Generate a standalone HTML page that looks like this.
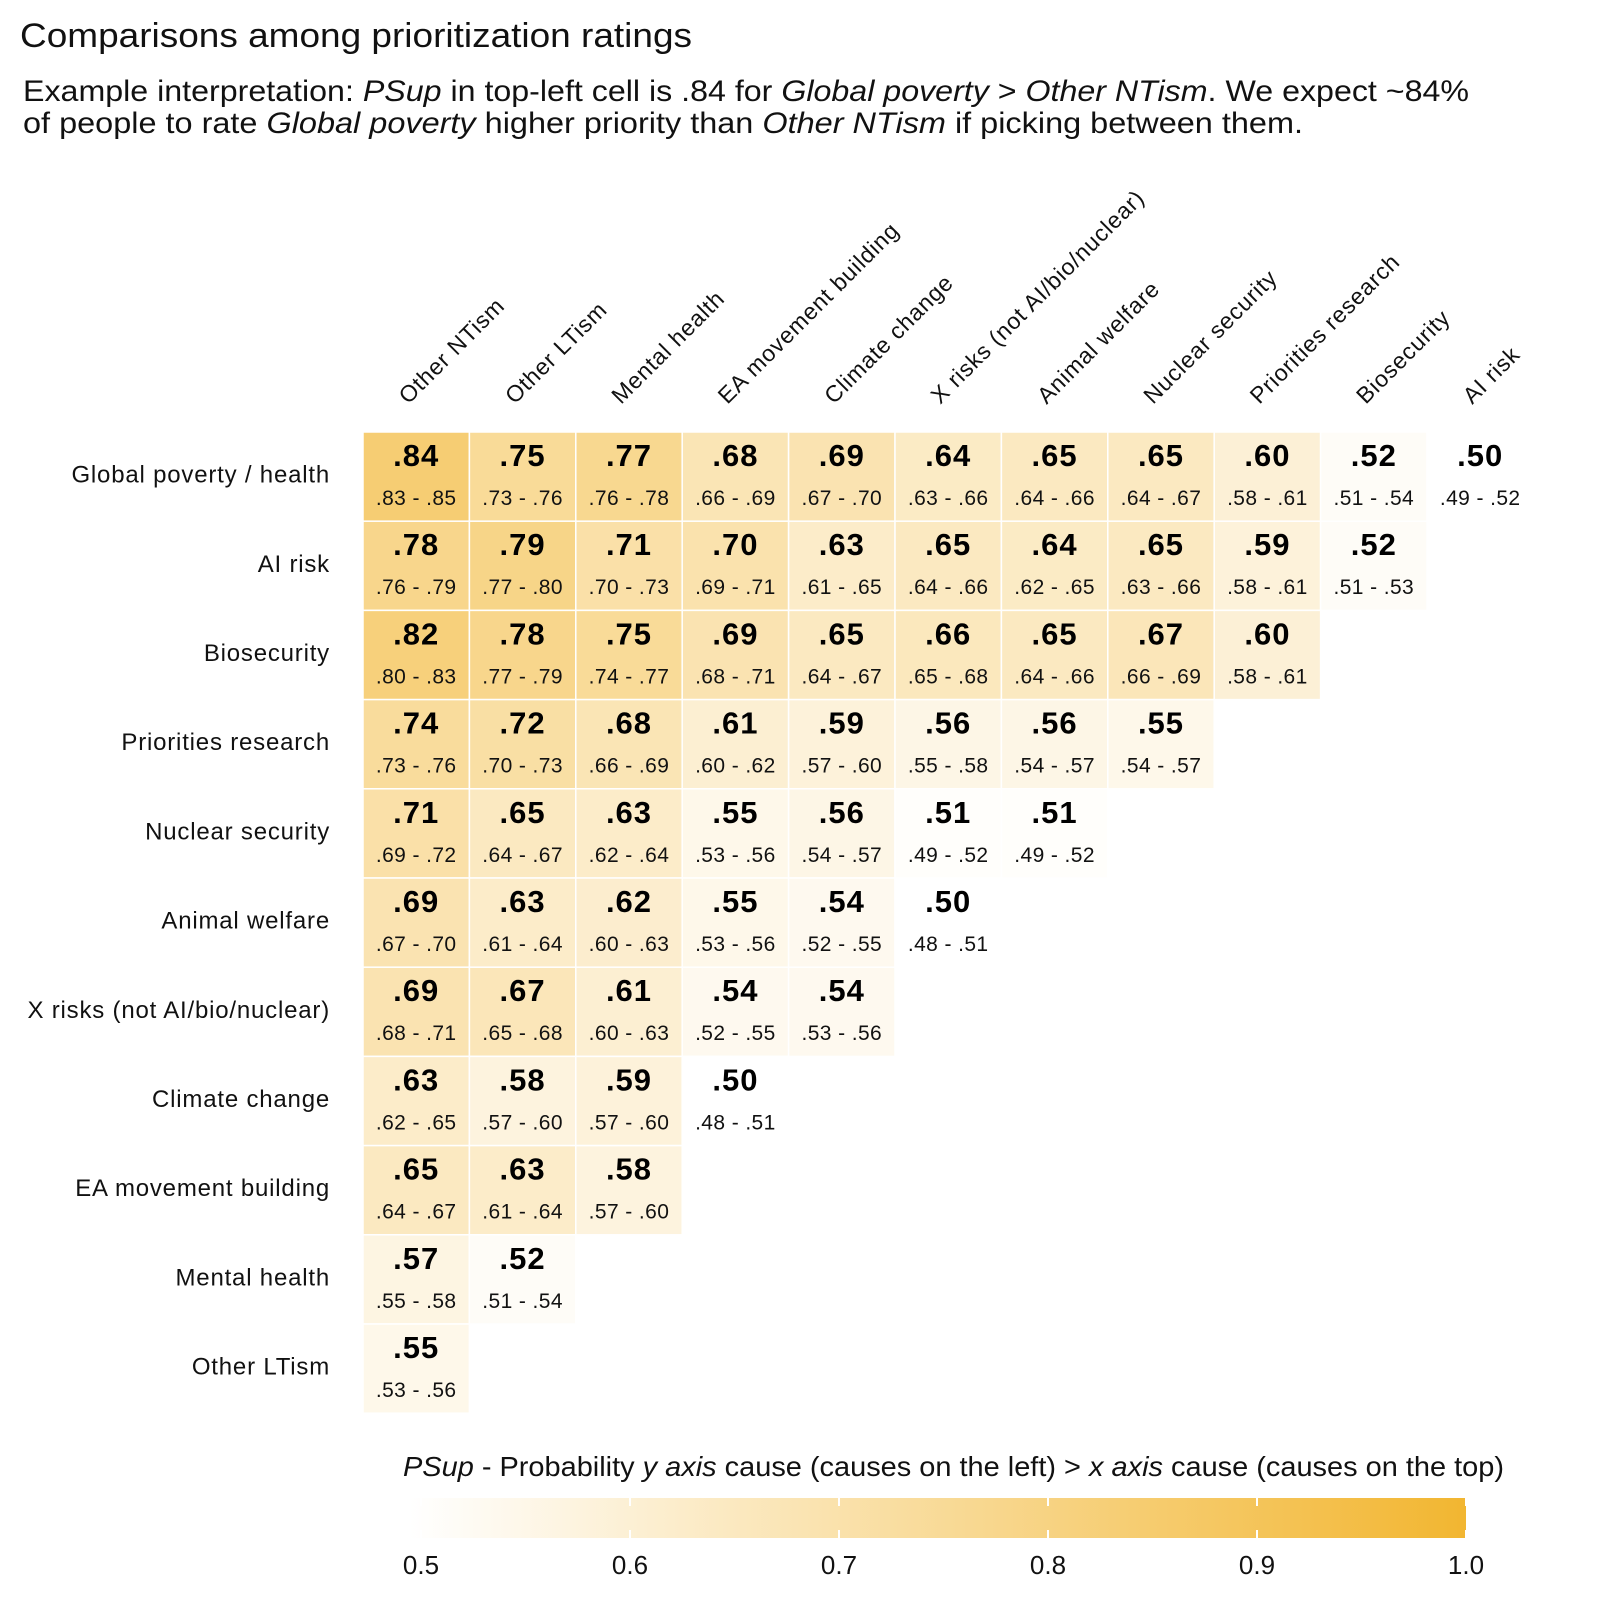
<!DOCTYPE html>
<html><head><meta charset="utf-8"><style>
html,body{margin:0;padding:0;background:#fff;}
svg{display:block;font-family:"Liberation Sans",sans-serif;}
</style></head><body>
<svg id="chart" width="1600" height="1600" viewBox="0 0 1600 1600" xmlns="http://www.w3.org/2000/svg">
<defs>
<linearGradient id="cbar" x1="0" x2="1" y1="0" y2="0">
<stop offset="0" stop-color="#ffffff"/><stop offset="1" stop-color="#f2b631"/>
</linearGradient>
</defs>
<text x="20" y="47" font-size="34" textLength="672" lengthAdjust="spacingAndGlyphs" fill="#111">Comparisons among prioritization ratings</text>
<text x="23" y="101" font-size="30" textLength="1446" lengthAdjust="spacingAndGlyphs" fill="#111">Example interpretation: <tspan font-style="italic">PSup</tspan> in top-left cell is .84 for <tspan font-style="italic">Global poverty</tspan> &gt; <tspan font-style="italic">Other NTism</tspan>. We expect ~84%</text>
<text x="23" y="133" font-size="30" textLength="1280" lengthAdjust="spacingAndGlyphs" fill="#111">of people to rate <tspan font-style="italic">Global poverty</tspan> higher priority than <tspan font-style="italic">Other NTism</tspan> if picking between them.</text>
<g id="cells"></g>
<g id="collabels"></g>
<g id="rowlabels"></g>
<text x="403" y="1476" font-size="28" textLength="1101" lengthAdjust="spacingAndGlyphs" fill="#111"><tspan font-style="italic">PSup</tspan> - Probability <tspan font-style="italic">y axis</tspan> cause (causes on the left) &gt; <tspan font-style="italic">x axis</tspan> cause (causes on the top)</text>
<rect x="410" y="1498" width="1056" height="40" fill="url(#cbar)"/>
<g id="cbticks"></g>
</svg>
<script>
const cols = ["Other NTism","Other LTism","Mental health","EA movement building","Climate change","X risks (not AI/bio/nuclear)","Animal welfare","Nuclear security","Priorities research","Biosecurity","AI risk"];
const rows = ["Global poverty / health","AI risk","Biosecurity","Priorities research","Nuclear security","Animal welfare","X risks (not AI/bio/nuclear)","Climate change","EA movement building","Mental health","Other LTism"];
const values = [
[.84,.75,.77,.68,.69,.64,.65,.65,.60,.52,.50],
[.78,.79,.71,.70,.63,.65,.64,.65,.59,.52],
[.82,.78,.75,.69,.65,.66,.65,.67,.60],
[.74,.72,.68,.61,.59,.56,.56,.55],
[.71,.65,.63,.55,.56,.51,.51],
[.69,.63,.62,.55,.54,.50],
[.69,.67,.61,.54,.54],
[.63,.58,.59,.50],
[.65,.63,.58],
[.57,.52],
[.55]];
const lows = [
[.83,.73,.76,.66,.67,.63,.64,.64,.58,.51,.49],
[.76,.77,.70,.69,.61,.64,.62,.63,.58,.51],
[.80,.77,.74,.68,.64,.65,.64,.66,.58],
[.73,.70,.66,.60,.57,.55,.54,.54],
[.69,.64,.62,.53,.54,.49,.49],
[.67,.61,.60,.53,.52,.48],
[.68,.65,.60,.52,.53],
[.62,.57,.57,.48],
[.64,.61,.57],
[.55,.51],
[.53]];
const highs = [
[.85,.76,.78,.69,.70,.66,.66,.67,.61,.54,.52],
[.79,.80,.73,.71,.65,.66,.65,.66,.61,.53],
[.83,.79,.77,.71,.67,.68,.66,.69,.61],
[.76,.73,.69,.62,.60,.58,.57,.57],
[.72,.67,.64,.56,.57,.52,.52],
[.70,.64,.63,.56,.55,.51],
[.71,.68,.63,.55,.56],
[.65,.60,.60,.51],
[.67,.64,.60],
[.58,.54],
[.56]];
const cbTicks = [0.5,0.6,0.7,0.8,0.9,1.0];

const NS="http://www.w3.org/2000/svg";
const x0=363, cw=106.4, y0=432, rh=89.2;
const xPos=i=>x0+i*cw, yPos=j=>y0+j*rh;
const cbX=v=>421+(v-0.5)/0.5*1045;
function color(v){const t=Math.max(0,Math.min(1,(v-0.5)/0.5));
 const r=Math.round(255+(242-255)*t),g=Math.round(255+(182-255)*t),b=Math.round(255+(49-255)*t);
 return `rgb(${r},${g},${b})`;}
const fmt=v=>v.toFixed(2).replace(/^0/,'');
function mk(tag,attrs,parent,txt){const e=document.createElementNS(NS,tag);for(const k in attrs)e.setAttribute(k,attrs[k]);if(txt!==undefined)e.textContent=txt;parent.appendChild(e);return e;}
const gc=document.getElementById('cells');
values.forEach((row,j)=>row.forEach((v,i)=>{
 const r=mk('rect',{x:xPos(i),y:yPos(j),width:cw,height:rh,fill:color(v),stroke:'#fff','stroke-width':1.5},gc);
 
 
 const t=mk('text',{x:xPos(i)+cw/2,y:yPos(j)+34,'text-anchor':'middle','font-size':31,'font-weight':'bold','letter-spacing':1,fill:'#000'},gc,fmt(v));
 
 
 const c=mk('text',{x:xPos(i)+cw/2,y:yPos(j)+73,'text-anchor':'middle','font-size':21,'letter-spacing':0.4,fill:'#111'},gc,fmt(lows[j][i])+' - '+fmt(highs[j][i]));
 
 
}));
const gcl=document.getElementById('collabels');
cols.forEach((c,i)=>{const ax=xPos(i)+cw/2-8, ay=405;
 const t=mk('text',{x:ax,y:ay,'font-size':23,'letter-spacing':0.8,fill:'#111',transform:`rotate(-45 ${ax} ${ay})`},gcl,c);
 
 });
const grl=document.getElementById('rowlabels');
rows.forEach((r,j)=>{const t=mk('text',{x:330,y:yPos(j)+rh/2+6,'text-anchor':'end','font-size':24,'letter-spacing':0.8,fill:'#111'},grl,r);
 
 });
const gt=document.getElementById('cbticks');
cbTicks.forEach(v=>{
 const l=mk('line',{x1:cbX(v),x2:cbX(v),y1:1498,y2:1538,stroke:'#fff','stroke-width':2,'stroke-dasharray':'8 24 8'},gt);
 
 
 const t=mk('text',{x:cbX(v),y:1574,'text-anchor':'middle','font-size':26,fill:'#111'},gt,v.toFixed(1));
 
 });
</script>
</body></html>
